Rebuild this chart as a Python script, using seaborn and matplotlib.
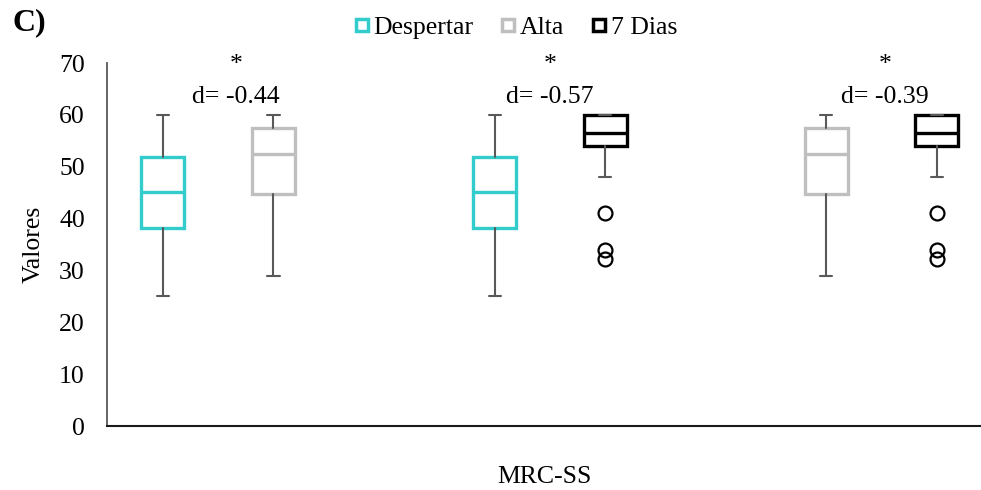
import matplotlib
matplotlib.use("Agg")
import matplotlib.pyplot as plt
from matplotlib.lines import Line2D
import seaborn as sns

# ---- data ----
groups = ["Despertar", "Alta", "7 Dias"]
colors = ["#33CCCC", "#BFBFBF", "#000000"]
whislo = [25, 29, 48]
q1 = [38.2, 44.8, 54.0]
med = [45.2, 52.5, 56.5]
q3 = [51.8, 57.5, 60.0]
whishi = [60, 60, 60]
fliers = [[], [], [41, 34, 32.3]]

pairs = [(0, 1), (0, 2), (1, 2)]
effects = ["d= -0.44", "d= -0.57", "d= -0.39"]
stars = ["*", "*", "*"]
yticks = [0, 10, 20, 30, 40, 50, 60, 70]

sns.set_theme(style="white")
plt.rcParams["font.family"] = ["Liberation Serif", "DejaVu Serif"]
plt.rcParams["text.color"] = "black"
plt.rcParams["axes.labelcolor"] = "black"
plt.rcParams["ytick.color"] = "black"
plt.rcParams["xtick.color"] = "black"
FS = 18.5

fig = plt.figure(figsize=(9.81, 4.90), dpi=100)
ax = fig.add_axes([107 / 981, 1 - 426 / 490, 874 / 981, 363 / 490])

for p, (a, b) in enumerate(pairs):
    for k, g in enumerate((a, b)):
        pos = 3 * p + k
        st = dict(whislo=whislo[g], q1=q1[g], med=med[g], q3=q3[g],
                  whishi=whishi[g], fliers=fliers[g])
        ax.bxp([st], positions=[pos], widths=0.39, capwidths=0.11,
               showfliers=True, patch_artist=True,
               boxprops=dict(facecolor="white", edgecolor=colors[g], linewidth=2.4),
               medianprops=dict(color=colors[g], linewidth=2.4),
               whiskerprops=dict(color="#595959", linewidth=1.5),
               capprops=dict(color="#595959", linewidth=1.5),
               flierprops=dict(marker="o", markerfacecolor="none",
                               markeredgecolor="black", markersize=10,
                               markeredgewidth=1.6))

text_x = [0.66, 3.5, 6.53]
for p in range(len(pairs)):
    ax.text(text_x[p], 69.6, stars[p], ha="center", va="center", fontsize=FS,
            color="black", clip_on=False)
    ax.text(text_x[p], 63.4, effects[p], ha="center", va="center", fontsize=FS,
            color="black", clip_on=False)

ax.set_xlim(-0.506, 7.40)
ax.set_ylim(0, 70)
ax.set_yticks(yticks)
ax.set_yticklabels([str(t) for t in yticks], fontsize=FS, color="black")
ax.set_xticks([])
ax.tick_params(axis="y", length=0, pad=16)
for s in ["top", "right"]:
    ax.spines[s].set_visible(False)
ax.spines["left"].set_color("#595959")
ax.spines["left"].set_linewidth(1.3)
ax.spines["bottom"].set_color("#1a1a1a")
ax.spines["bottom"].set_linewidth(1.5)

ax.set_ylabel("Valores", fontsize=FS, color="black")
ax.yaxis.set_label_coords(-0.071, 0.5)
ax.set_xlabel("MRC-SS", fontsize=FS, color="black")
ax.xaxis.set_label_coords(0.5, -0.11)

handles = [Line2D([], [], linestyle="none", marker="s", markersize=9,
                  markerfacecolor="white", markeredgecolor=c, markeredgewidth=2.5)
           for c in colors]
leg = fig.legend(handles, groups, loc="center", bbox_to_anchor=(0.525, 0.943), ncol=3,
                 frameon=False, fontsize=FS, handlelength=0.7, handletextpad=0.1,
                 columnspacing=1.0, borderaxespad=0)
for t in leg.get_texts():
    t.set_color("black")

fig.text(12 / 981, 0.953, "C)", fontsize=23, fontweight="bold", va="center",
         ha="left", color="black")

fig.savefig("out.png", dpi=100)
